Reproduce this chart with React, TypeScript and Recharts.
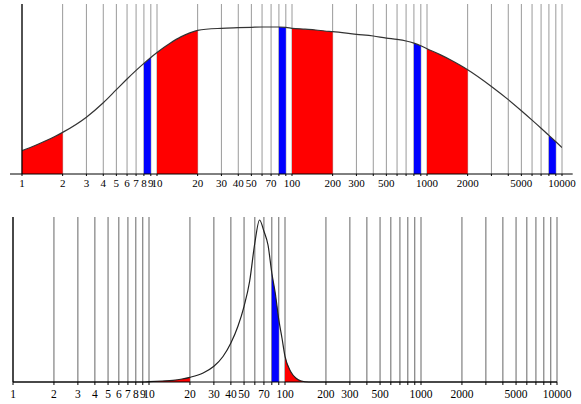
import { ComposedChart, Area, Line, XAxis, YAxis, CartesianGrid, ReferenceLine } from 'recharts'

// grid values (1..9 per decade) and which of them carry a label
const gridTicks = [
  1, 2, 3, 4, 5, 6, 7, 8, 9,
  10, 20, 30, 40, 50, 60, 70, 80, 90,
  100, 200, 300, 400, 500, 600, 700, 800, 900,
  1000, 2000, 3000, 4000, 5000, 6000, 7000, 8000, 9000,
  10000,
]
const labelTicks = [1, 2, 3, 4, 5, 6, 7, 8, 9, 10, 20, 30, 40, 50, 70, 100, 200, 300, 500, 1000, 2000, 5000, 10000]

// leading digit 1 -> red, leading digit 8 -> blue
const redBands = [[1, 2], [10, 20], [100, 200], [1000, 2000]]
const blueBands = [[8, 9], [80, 90], [800, 900], [8000, 9000]]

// top panel: wide distribution
const topX = [
  1, 1.25, 1.5, 1.75, 2, 3, 4, 5, 6, 7, 8, 9,
  10, 12.5, 15, 17.5, 20, 30, 40, 50, 60, 70, 80, 90,
  100, 125, 150, 175, 200, 300, 400, 500, 600, 700, 800, 900,
  1000, 1250, 1500, 1750, 2000, 3000, 4000, 5000, 6000, 7000, 8000, 9000,
  10000,
]
const topY = [
  23.3, 28.5, 33.2, 37.5, 41.6, 56.8, 71.2, 84.3, 95, 103.6, 110.6, 116.5,
  121.5, 130.7, 137.1, 141.1, 143.7, 145.7, 146.3, 146.7, 147, 147, 147, 146.7,
  145.7, 144.8, 144, 143, 142.3, 139.7, 138, 135.9, 134.6, 133, 130.9, 128.3,
  125.3, 119.4, 114, 109, 104.3, 87.6, 74.4, 63.3, 53.9, 45.8, 38.6, 32.2,
  26.4,
]

// bottom panel: narrow distribution
const bottomX = [
  1, 2, 3, 4, 5, 6, 7, 8, 9,
  10, 12.5, 15, 17.5, 20, 25, 30, 35, 40, 45, 50, 55, 60, 65, 70, 75, 80, 85, 90, 95,
  100, 110, 120, 130, 150, 175, 200, 300, 400, 500, 600, 700, 800, 900,
  1000, 2000, 3000, 4000, 5000, 6000, 7000, 8000, 9000, 10000,
]
const bottomY = [
  0, 0, 0, 0, 0, 0, 0, 0, 0,
  0.3, 1, 1.7, 3, 4.7, 9, 15.7, 25.5, 39, 55.5, 75.7, 101, 139, 162, 150.7, 137, 109, 88, 62.3, 44,
  25.7, 10.5, 4, 1.3, 0, 0, 0, 0, 0, 0, 0, 0, 0, 0,
  0, 0, 0, 0, 0, 0, 0, 0, 0, 0,
]

const inBands = (x: number, bands: number[][]) => bands.some(([a, b]) => x >= a && x <= b)

const buildRows = (xs: number[], ys: number[]) =>
  xs.map((x, i) => ({
    x,
    v: ys[i],
    red: inBands(x, redBands) ? ys[i] : null,
    blue: inBands(x, blueBands) ? ys[i] : null,
  }))

const topRows = buildRows(topX, topY)
const bottomRows = buildRows(bottomX, bottomY)

const fmt = (v: number) => (labelTicks.includes(v) ? String(v) : '')

function Panel({ rows, height, margin, yMax, grid, lineColor, tickSize, tickMargin, fontSize, extendAxis }: any) {
  return (
    <ComposedChart width={581} height={height} data={rows} margin={margin}>
      <CartesianGrid horizontal={false} stroke={grid} />
      <XAxis
        dataKey="x"
        type="number"
        scale="log"
        domain={[1, 10000]}
        allowDataOverflow
        ticks={gridTicks}
        interval={0}
        tickFormatter={fmt}
        height={height - margin.top - margin.bottom - (yMax.plot as number)}
        axisLine={extendAxis ? false : { stroke: '#000' }}
        tickLine={{ stroke: '#000' }}
        tickSize={tickSize}
        tickMargin={tickMargin}
        tick={{ fontSize, fontFamily: 'Liberation Serif, serif', fill: '#000' }}
      />
      <YAxis hide domain={[0, yMax.value]} />
      <Area dataKey="red" type="monotone" fill="#ff0000" fillOpacity={1} stroke="none" activeDot={false} isAnimationActive={false} />
      <Area dataKey="blue" type="monotone" fill="#0000ff" fillOpacity={1} stroke="none" activeDot={false} isAnimationActive={false} />
      <Line dataKey="v" type="monotone" stroke={lineColor} strokeWidth={1.2} dot={false} activeDot={false} isAnimationActive={false} />
      <ReferenceLine x={1} stroke="#000" strokeWidth={1.2} />
      {extendAxis && (
        <ReferenceLine
          segment={[{ x: extendAxis[0], y: 0 }, { x: extendAxis[1], y: 0 }]}
          stroke="#000"
          ifOverflow="visible"
        />
      )}
    </ComposedChart>
  )
}

export default function App() {
  return (
    <div style={{ position: 'absolute', left: 0, top: 0, width: 581, height: 404, background: '#fff' }}>
      <Panel
        rows={topRows}
        height={200}
        margin={{ top: 4, right: 19, left: 22, bottom: 0 }}
        yMax={{ value: 170, plot: 170 }}
        grid="#9a9a9a"
        lineColor="#333"
        tickSize={2}
        tickMargin={3}
        fontSize={11}
        extendAxis={[0.815, 12000]}
      />
      <Panel
        rows={bottomRows}
        height={204}
        margin={{ top: 17, right: 24, left: 13, bottom: 0 }}
        yMax={{ value: 165, plot: 165 }}
        grid="#666"
        lineColor="#222"
        tickSize={3}
        tickMargin={5}
        fontSize={11.5}
      />
    </div>
  )
}
